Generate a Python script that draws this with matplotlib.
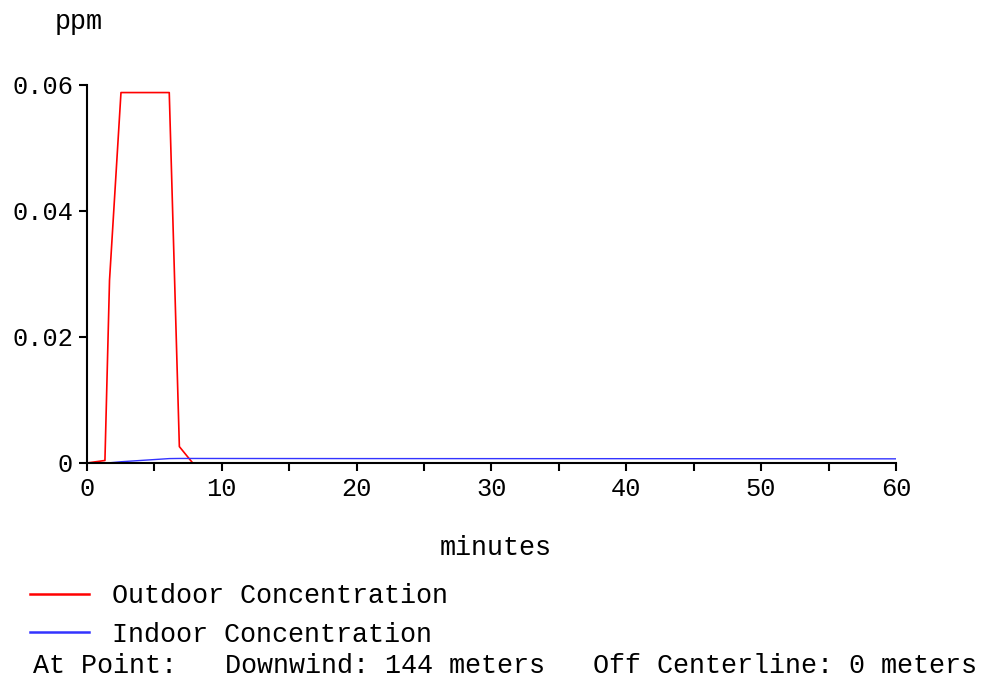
import matplotlib
matplotlib.use("Agg")
import matplotlib.pyplot as plt
from matplotlib.ticker import MultipleLocator

# Data
minutes_out = [0, 1.33, 1.67, 2.52, 6.1, 6.85, 7.84, 60]
outdoor_ppm = [0, 0.0004, 0.029, 0.0588, 0.0588, 0.0026, 0, 0]

minutes_in = [0, 1.33, 1.67, 2.52, 6.1, 6.85, 7.84, 20, 46, 60]
indoor_ppm = [0, 0, 0.00003, 0.0002, 0.0007, 0.00072, 0.00072, 0.0007, 0.00068, 0.00066]

x_ticks = [0, 10, 20, 30, 40, 50, 60]
y_ticks = [0, 0.02, 0.04, 0.06]
y_labels = ['0', '0.02', '0.04', '0.06']

FONT = 'Liberation Mono'
FS = 19.3

W, H = 995, 681
fig = plt.figure(figsize=(W / 100, H / 100), dpi=100)

# axes box in pixels: left 87, right 896, top 85, bottom 463
ax = fig.add_axes([87 / W, 1 - 463 / H, (896 - 87) / W, (463 - 85) / H])

l1, = ax.plot(minutes_out, outdoor_ppm, color='#ff0000', lw=1.2,
              label='Outdoor Concentration')
l2, = ax.plot(minutes_in, indoor_ppm, color='#3333ff', lw=1.0,
              label='Indoor Concentration')

ax.set_xlim(0, 60)
ax.set_ylim(0, 0.06)
ax.set_xticks(x_ticks)
ax.xaxis.set_minor_locator(MultipleLocator(5))
ax.set_yticks(y_ticks)
ax.set_yticklabels(y_labels)

for s in ['top', 'right']:
    ax.spines[s].set_visible(False)
for s in ['left', 'bottom']:
    ax.spines[s].set_linewidth(1.5)
    ax.spines[s].set_color('black')

ax.tick_params(which='both', direction='out', length=6, width=1.5)
ax.tick_params(axis='x', pad=4)
ax.tick_params(axis='y', pad=4)
for lab in ax.get_xticklabels() + ax.get_yticklabels():
    lab.set_fontfamily(FONT)
    lab.set_fontsize(18.3)

fig.text(55 / W, 1 - 22 / H, 'ppm', family=FONT, fontsize=FS,
         va='center', ha='left')
fig.text(496 / W, 1 - 548 / H, 'minutes', family=FONT, fontsize=FS,
         va='center', ha='center')

leg = fig.legend(handles=[l1, l2], loc='upper left',
                 bbox_to_anchor=(30 / W, 1 - 583 / H),
                 frameon=False, prop={'family': FONT, 'size': FS},
                 handlelength=2.2, handletextpad=0.85, labelspacing=0.48,
                 borderpad=0, borderaxespad=0)
for h in leg.legend_handles:
    h.set_linewidth(1.8)

fig.text(33 / W, 1 - 673 / H,
         'At Point:   Downwind: 144 meters   Off Centerline: 0 meters',
         family=FONT, fontsize=FS, va='baseline', ha='left')

fig.savefig('out.png', dpi=100, facecolor='white')
